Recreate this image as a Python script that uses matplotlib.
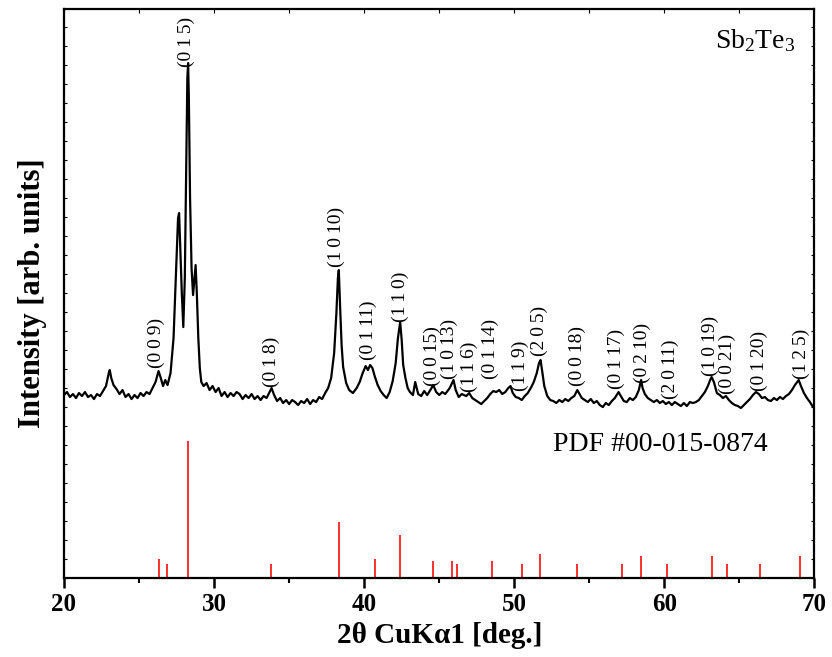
import matplotlib
matplotlib.use("Agg")
import matplotlib.pyplot as plt
from matplotlib.ticker import MultipleLocator

plt.rcParams['font.family'] = ['Liberation Serif', 'DejaVu Serif']
plt.rcParams['mathtext.fontset'] = 'custom'
plt.rcParams['mathtext.rm'] = 'Liberation Serif'
plt.rcParams['mathtext.it'] = 'Liberation Serif:italic'
plt.rcParams['mathtext.bf'] = 'Liberation Serif:bold'

# Measured XRD pattern (2theta, intensity in arbitrary units)
two_theta = [20.0, 20.2, 20.4, 20.6, 20.8, 21.0, 21.2, 21.4, 21.6, 21.8, 22.0, 22.2, 22.4, 22.6, 22.8,
             23.0, 23.05, 23.15, 23.3, 23.5, 23.7, 23.9, 24.1, 24.3, 24.5, 24.7, 24.9, 25.1, 25.3, 25.5,
             25.7, 25.9, 26.1, 26.3, 26.45, 26.6, 26.75, 26.9, 27.1, 27.3, 27.45, 27.6, 27.67, 27.75,
             27.85, 27.95, 28.05, 28.15, 28.22, 28.27, 28.32, 28.4, 28.5, 28.6, 28.7, 28.77, 28.85,
             28.95, 29.05, 29.15, 29.3, 29.5, 29.7, 29.9, 30.1, 30.3, 30.5, 30.7, 30.9, 31.1, 31.3,
             31.5, 31.7, 31.9, 32.1, 32.3, 32.5, 32.7, 32.9, 33.1, 33.3, 33.5, 33.7, 33.83, 34.0, 34.2,
             34.4, 34.6, 34.8, 35.0, 35.2, 35.4, 35.6, 35.8, 36.0, 36.2, 36.4, 36.6, 36.8, 37.0, 37.2,
             37.4, 37.6, 37.8, 38.0, 38.15, 38.25, 38.31, 38.4, 38.5, 38.6, 38.8, 39.0, 39.25, 39.5,
             39.7, 39.9, 40.1, 40.25, 40.4, 40.55, 40.7, 40.9, 41.1, 41.3, 41.5, 41.7, 41.9, 42.1,
             42.25, 42.4, 42.5, 42.6, 42.75, 42.9, 43.05, 43.25, 43.4, 43.6, 43.8, 44.0, 44.2, 44.45,
             44.6, 44.8, 45.0, 45.2, 45.4, 45.7, 45.95, 46.1, 46.3, 46.5, 46.8, 47.0, 47.2, 47.4, 47.6,
             47.8, 48.0, 48.2, 48.4, 48.6, 48.8, 49.0, 49.2, 49.4, 49.6, 49.75, 49.9, 50.1, 50.3, 50.5,
             50.7, 50.9, 51.1, 51.3, 51.5, 51.65, 51.75, 51.85, 52.0, 52.2, 52.4, 52.6, 52.8, 53.0,
             53.2, 53.4, 53.6, 53.8, 54.0, 54.2, 54.35, 54.5, 54.7, 54.9, 55.1, 55.3, 55.5, 55.7, 55.9,
             56.1, 56.3, 56.5, 56.7, 56.95, 57.1, 57.3, 57.5, 57.7, 57.9, 58.1, 58.3, 58.45, 58.55,
             58.7, 58.9, 59.1, 59.3, 59.5, 59.7, 59.9, 60.1, 60.3, 60.5, 60.7, 60.9, 61.1, 61.3, 61.5,
             61.7, 61.9, 62.1, 62.3, 62.5, 62.7, 62.9, 63.05, 63.15, 63.3, 63.5, 63.7, 63.9, 64.1,
             64.3, 64.5, 64.7, 64.9, 65.1, 65.3, 65.5, 65.7, 65.9, 66.1, 66.3, 66.5, 66.7, 66.9, 67.1,
             67.3, 67.5, 67.7, 67.9, 68.1, 68.3, 68.5, 68.7, 68.95, 69.1, 69.3, 69.5, 69.7, 69.9, 70.0]
intensity = [183, 186, 181, 184, 180, 185, 182, 186, 181, 183, 179, 184, 182, 187, 192,
             206, 208, 200, 193, 189, 184, 188, 181, 184, 179, 183, 180, 185, 182, 186,
             184, 190, 196, 207, 200, 192, 198, 193, 205, 240, 300, 360, 365, 330,
             285, 251, 300, 420, 500, 515, 480, 380, 310, 283, 300, 313, 285,
             240, 210, 196, 192, 195, 188, 192, 186, 190, 182, 186, 181, 185, 182,
             186, 184, 179, 183, 180, 184, 179, 182, 178, 182, 180, 186, 190, 183, 177,
             180, 175, 178, 174, 178, 176, 173, 177, 175, 179, 174, 178, 176, 181, 179,
             185, 190, 200, 225, 265, 300, 308, 270, 232, 211, 195, 188, 185, 190,
             196, 205, 212, 208, 213, 210, 202, 193, 187, 183, 180, 186, 197, 215,
             240, 256, 238, 213, 200, 190, 186, 183, 196, 184, 182, 187, 183, 189,
             193, 186, 183, 186, 184, 190, 198, 188, 181, 184, 182, 185, 180, 178, 176,
             174, 177, 180, 184, 187, 186, 188, 184, 186, 190, 192, 185, 181, 180, 178,
             182, 185, 190, 196, 205, 215, 218, 208, 192, 182, 178, 177, 175, 178,
             176, 179, 177, 180, 182, 188, 184, 180, 178, 176, 179, 175, 177, 173, 171,
             175, 173, 177, 180, 186, 182, 177, 176, 180, 178, 181, 188, 198, 190,
             184, 180, 178, 176, 178, 175, 177, 174, 176, 173, 176, 174, 172, 175, 172,
             176, 175, 176, 178, 182, 186, 192, 198, 201, 196, 185, 183, 180, 182,
             178, 175, 173, 172, 170, 173, 176, 179, 183, 186, 184, 180, 181, 178, 177,
             180, 178, 181, 179, 182, 184, 188, 193, 198, 192, 185, 180, 176, 171, 174]

# Reference pattern PDF #00-015-0874 (stick positions and heights)
ref_pos = [26.33, 26.84, 28.26, 33.78, 38.29, 40.71, 42.39, 44.61, 45.85, 46.19, 48.52,
           50.54, 51.74, 54.18, 57.15, 58.46, 60.15, 63.19, 64.19, 66.34, 69.02]
ref_int = [19, 14, 137, 14, 56, 19, 43, 17, 17, 14, 17,
           14, 24, 14, 14, 22, 14, 22, 14, 14, 22]

# Peak labels (hkl), label x position and label base height
hkl_labels = ['(0 0 9)', '(0 1 5)', '(0 1 8)', '(1 0 10)', '(0 1 11)', '(1 1 0)', '(0 0 15)',
              '(1 0 13)', '(1 1 6)', '(0 1 14)', '(1 1 9)', '(2 0 5)', '(0 0 18)', '(0 1 17)',
              '(0 2 10)', '(2 0 11)', '(1 0 19)', '(0 0 21)', '(0 1 20)', '(1 2 5)']
hkl_x = [26.18, 28.17, 33.84, 38.17, 40.27, 42.39, 44.55, 45.68, 47.03, 48.42, 50.43,
         51.65, 54.22, 56.80, 58.51, 60.37, 63.04, 64.17, 66.30, 69.10]
hkl_y = [210, 511, 191, 311, 218, 256, 192, 199, 186, 199, 187,
         222, 192, 189, 195, 179, 202, 184, 187, 199]

fig = plt.figure(figsize=(8.32, 6.57), dpi=100)
ax = fig.add_axes([0.0769, 0.1202, 0.902, 0.866])

ax.plot(two_theta, intensity, color='black', lw=1.6)
ax.vlines(ref_pos, 0, ref_int, colors='#ff2020', lw=1.3)

for lab, x, y in zip(hkl_labels, hkl_x, hkl_y):
    ax.text(x, y, lab.replace(' ', '\u2009'), rotation=90, ha='center', va='bottom', fontsize=14)

ax.text(0.975, 0.968, r'Sb$_2$Te$_3$', transform=ax.transAxes, ha='right', va='top', fontsize=20)
ax.text(0.937, 0.235, 'PDF #00-015-0874', transform=ax.transAxes, ha='right', va='center', fontsize=20)

ax.set_xlim(20, 70)
ax.set_ylim(0, 569)
ax.xaxis.set_major_locator(MultipleLocator(10))
ax.xaxis.set_minor_locator(MultipleLocator(5))
ax.yaxis.set_major_locator(MultipleLocator(19))
ax.set_yticklabels([])

ax.tick_params(axis='x', which='major', direction='out', length=7, width=1.8,
               labelsize=18, pad=4, top=False)
ax.tick_params(axis='x', which='minor', direction='out', length=3.5, width=1.5, top=False)
ax.tick_params(axis='y', which='major', direction='in', length=2.5, width=0.8,
               left=True, right=True, labelleft=False)
for lbl in ax.get_xticklabels():
    lbl.set_fontweight('bold')

# top axis ticks pointing inward
sec = ax.secondary_xaxis('top')
sec.xaxis.set_major_locator(MultipleLocator(10))
sec.xaxis.set_minor_locator(MultipleLocator(5))
sec.tick_params(axis='x', which='both', direction='in', length=3, width=0.8, labeltop=False)
sec.spines['top'].set_visible(False)

for s in ax.spines.values():
    s.set_linewidth(1.6)

ax.set_xlabel('2θ CuKα1 [deg.]', fontsize=21, fontweight='bold', labelpad=4)
ax.set_ylabel('Intensity [arb. units]', fontsize=22, fontweight='bold', labelpad=12)

fig.savefig('out.png', dpi=100)
